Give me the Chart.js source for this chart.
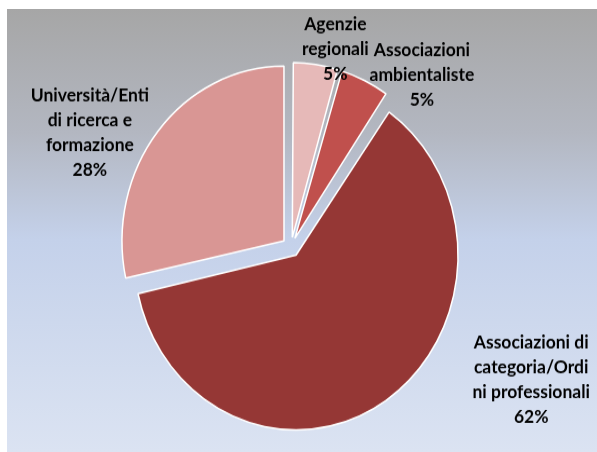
<!DOCTYPE html>
<html>
<head>
<meta charset="utf-8">
<script src="https://cdn.jsdelivr.net/npm/chart.js@4.4.0/dist/chart.umd.min.js"></script>
<style>
  html, body { margin: 0; padding: 0; background: #fff; }
  body { width: 597px; height: 452px; position: relative; overflow: hidden; }
  #bg {
    position: absolute; left: 7px; top: 9px; width: 590px; height: 443px;
    background: linear-gradient(to bottom, #a6a6a6 0%, #b3b7c1 28%, #c4d1ea 52%, #dbe3f2 100%);
  }
  /* the reference is slightly stretched vertically */
  #wrap {
    position: absolute; left: 0; top: 0; width: 597px; height: 419px;
    transform: scaleY(1.0788); transform-origin: 0 0;
  }
</style>
</head>
<body>
<div id="bg"></div>
<div id="wrap"><canvas id="pieChart"></canvas></div>
<script>
"use strict";

const categories = [
  ["Agenzie", "regionali"],
  ["Associazioni", "ambientaliste"],
  ["Associazioni di", "categoria/Ordi", "ni professionali"],
  ["Università/Enti", "di ricerca e", "formazione"],
];
const values = [4.6, 5.0, 62.0, 28.4];
const colors = ["#e6b9b8", "#c0504d", "#953735", "#d99694"];

// label offsets from the outer middle of each slice
const labelShift = [[21, -23], [61, -13], [150, -12], [-75, -4]];

// exploded slices keep the same radius (chart.js grows them with offset)
const sameRadiusPlugin = {
  id: "sameRadius",
  afterDatasetUpdate(chart, args) {
    args.meta.data.forEach((arc) => {
      const fix = 1 - Math.sin(Math.min(Math.PI, arc.circumference || 0));
      arc.outerRadius -= ((arc.options.offset || 0) / 4) * fix;
    });
  },
};

const sliceLabelPlugin = {
  id: "sliceLabels",
  afterDatasetsDraw(chart, args, opts) {
    const ctx = chart.ctx;
    const meta = chart.getDatasetMeta(0);
    const r = meta.controller.outerRadius;
    const total = values.reduce((a, b) => a + b, 0);
    ctx.save();
    ctx.font = opts.font;
    ctx.fillStyle = opts.color;
    ctx.textAlign = "center";
    ctx.textBaseline = "middle";
    meta.data.forEach((arc, i) => {
      const p = arc.getProps(["x", "y", "startAngle", "endAngle"], true);
      const mid = (p.startAngle + p.endAngle) / 2;
      const lines = categories[i].concat(Math.round((values[i] / total) * 100) + "%");
      const ax = p.x + Math.cos(mid) * r + labelShift[i][0];
      const ay = p.y + Math.sin(mid) * r + labelShift[i][1];
      const top = ay - ((lines.length - 1) * opts.lineHeight) / 2;
      lines.forEach((t, k) => ctx.fillText(t, ax, top + k * opts.lineHeight));
    });
    ctx.restore();
  },
};

let context = document.querySelector("#pieChart").getContext("2d");
new Chart(context, {
  type: "pie",
  data: {
    labels: categories,
    datasets: [
      {
        data: values,
        backgroundColor: colors,
        borderColor: "#ffffff",
        borderWidth: 1.5,
        offset: 36,
      },
    ],
  },
  options: {
    responsive: true,
    maintainAspectRatio: false,
    animation: false,
    events: [],
    radius: 162,
    layout: {
      padding: { left: 0, right: 15, top: 39, bottom: 0 },
    },
    plugins: {
      legend: { display: false },
      tooltip: { enabled: false },
      sliceLabels: {
        font: "bold 17.5px Lato",
        color: "#000000",
        lineHeight: 23,
      },
    },
  },
  plugins: [sameRadiusPlugin, sliceLabelPlugin],
});
</script>
</body>
</html>
